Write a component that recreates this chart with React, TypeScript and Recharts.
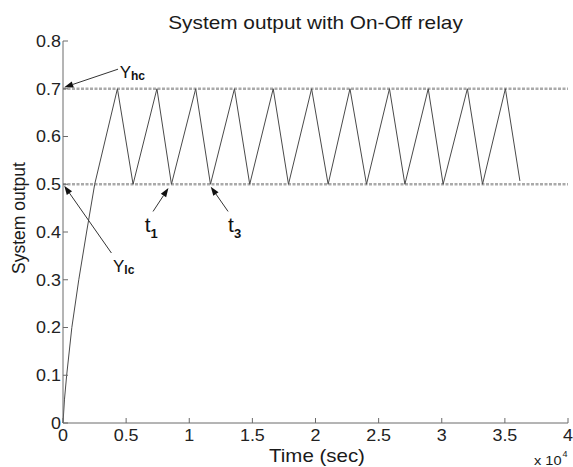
import React from "react";
import {
  LineChart,
  Line,
  XAxis,
  YAxis,
  ReferenceLine,
  ReferenceDot,
  Customized,
} from "recharts";

// initial rise
const riseTimes = [0, 120, 290, 700, 1250, 1870, 2510];
const riseValues = [0, 0.05, 0.1, 0.2, 0.3, 0.4, 0.5];

// relay switching instants (sec)
const peakTimes = [4310, 7440, 10510, 13580, 16650, 19690, 22730, 25860, 28930, 32030, 35040];
const troughTimes = [5550, 8590, 11680, 14790, 17860, 21000, 24040, 27080, 30110, 33230];
const endTime = 36190;
const endValue = 0.507;

const highLevel = 0.7;
const lowLevel = 0.5;

const xTicks = [0, 5000, 10000, 15000, 20000, 25000, 30000, 35000, 40000];
const yTicks = [0, 0.1, 0.2, 0.3, 0.4, 0.5, 0.6, 0.7, 0.8];

// annotation arrows: [time, value] of tail, tip and text
const annoNames = ["Y", "Y", "t", "t"];
const annoSubs = ["hc", "lc", "1", "3"];
const annoTails = [[4358, 0.741], [3835, 0.356], [7132, 0.443], [13075, 0.443]];
const annoTips = [[100, 0.703], [100, 0.497], [8350, 0.492], [11704, 0.495]];
const annoTexts = [[4490, 0.7227], [3962, 0.317], [6474, 0.4003], [13075, 0.4003]];

const data: { t: number; y: number }[] = riseTimes.map((t, i) => ({ t, y: riseValues[i] }));
peakTimes.forEach((p, i) => {
  data.push({ t: p, y: highLevel });
  if (i < troughTimes.length) data.push({ t: troughTimes[i], y: lowLevel });
});
data.push({ t: endTime, y: endValue });

const FONT = '"Liberation Sans", Arial, Helvetica, sans-serif';
const AXIS = "#6a6a6a";

function XTick(props: any) {
  const { x, y, payload } = props;
  return (
    <g transform={`translate(${x} ${y}) scale(1.12 1)`}>
      <text textAnchor="middle" dy="0.71em" fontSize={16} fill="#222" fontFamily={FONT}>
        {String(payload.value / 10000)}
      </text>
    </g>
  );
}

function YTick(props: any) {
  const { x, y, payload } = props;
  return (
    <g transform={`translate(${x} ${y}) scale(1.12 1)`}>
      <text textAnchor="end" dy="0.36em" fontSize={16} fill="#222" fontFamily={FONT}>
        {String(Math.round(payload.value * 10) / 10)}
      </text>
    </g>
  );
}

// box axes: tick marks only, no labels
function NoLabel() {
  return <g />;
}

function Arrow(props: any) {
  const { x1, y1, x2, y2 } = props;
  const ang = Math.atan2(y2 - y1, x2 - x1);
  const len = 9;
  const half = 3.2;
  const bx = x2 - len * Math.cos(ang);
  const by = y2 - len * Math.sin(ang);
  const px = -Math.sin(ang) * half;
  const py = Math.cos(ang) * half;
  return (
    <g>
      <line x1={x1} y1={y1} x2={bx} y2={by} stroke="#333" strokeWidth={1} />
      <polygon points={`${x2},${y2} ${bx + px},${by + py} ${bx - px},${by - py}`} fill="#111" />
    </g>
  );
}

function makeLabel(name: string, sub: string) {
  const isT = name === "t";
  return (props: any) => (
    <text x={props.cx} y={props.cy} fontFamily={FONT} fill="#111">
      <tspan fontSize={isT ? 21 : 17}>{name}</tspan>
      <tspan fontSize={isT ? 13 : 12} fontWeight="bold" dy={isT ? 6 : 2}>
        {sub}
      </tspan>
    </text>
  );
}

function Labels() {
  return (
    <g fontFamily={FONT} fill="#1a1a1a">
      <text transform="translate(315.5 28.5) scale(1.157 1)" textAnchor="middle" fontSize={18}>
        System output with On-Off relay
      </text>
      <text transform="translate(317 461.5) scale(1.17 1)" textAnchor="middle" fontSize={17.5}>
        Time (sec)
      </text>
      <text transform="translate(24.7 218) rotate(-90)" textAnchor="middle" fontSize={17.5}>
        System output
      </text>
      <text transform="translate(534 465) scale(1.12 1)" fontSize={13}>
        x 10
      </text>
      <text x={562.5} y={456.5} fontSize={9}>
        4
      </text>
    </g>
  );
}

export default function App() {
  return (
    <div style={{ position: "absolute", left: 0, top: 0, width: 573, height: 467, background: "#fff" }}>
      <LineChart width={573} height={467} data={data} margin={{ top: 41, right: 5, bottom: 0, left: 0 }}>
        <XAxis
          dataKey="t"
          type="number"
          domain={[0, 40000]}
          ticks={xTicks}
          height={44}
          stroke={AXIS}
          tickSize={-5}
          tickMargin={12}
          tick={<XTick />}
          interval={0}
        />
        <XAxis
          xAxisId="top"
          orientation="top"
          dataKey="t"
          type="number"
          domain={[0, 40000]}
          ticks={xTicks}
          height={0}
          stroke={AXIS}
          tickSize={-5}
          tick={<NoLabel />}
          interval={0}
        />
        <YAxis
          type="number"
          domain={[0, 0.8]}
          ticks={yTicks}
          width={63}
          stroke={AXIS}
          tickSize={-5}
          tickMargin={7}
          tick={<YTick />}
          interval={0}
        />
        <YAxis
          yAxisId="right"
          orientation="right"
          type="number"
          domain={[0, 0.8]}
          ticks={yTicks}
          width={0}
          stroke={AXIS}
          tickSize={-5}
          tick={<NoLabel />}
          interval={0}
        />
        <ReferenceLine y={highLevel} stroke="#aaaaaa" strokeWidth={2.5} strokeDasharray="3 1.5" />
        <ReferenceLine y={lowLevel} stroke="#aaaaaa" strokeWidth={2.5} strokeDasharray="3 1.5" />
        <Line
          dataKey="y"
          type="linear"
          stroke="#4a4a4a"
          strokeWidth={1}
          dot={false}
          isAnimationActive={false}
        />
        {annoNames.map((name, i) => (
          <ReferenceLine
            key={`arrow-${i}`}
            segment={[
              { x: annoTails[i][0], y: annoTails[i][1] },
              { x: annoTips[i][0], y: annoTips[i][1] },
            ]}
            shape={Arrow}
          />
        ))}
        {annoNames.map((name, i) => (
          <ReferenceDot
            key={`label-${i}`}
            x={annoTexts[i][0]}
            y={annoTexts[i][1]}
            r={0}
            shape={makeLabel(name, annoSubs[i])}
          />
        ))}
        <Customized component={Labels} />
      </LineChart>
    </div>
  );
}
